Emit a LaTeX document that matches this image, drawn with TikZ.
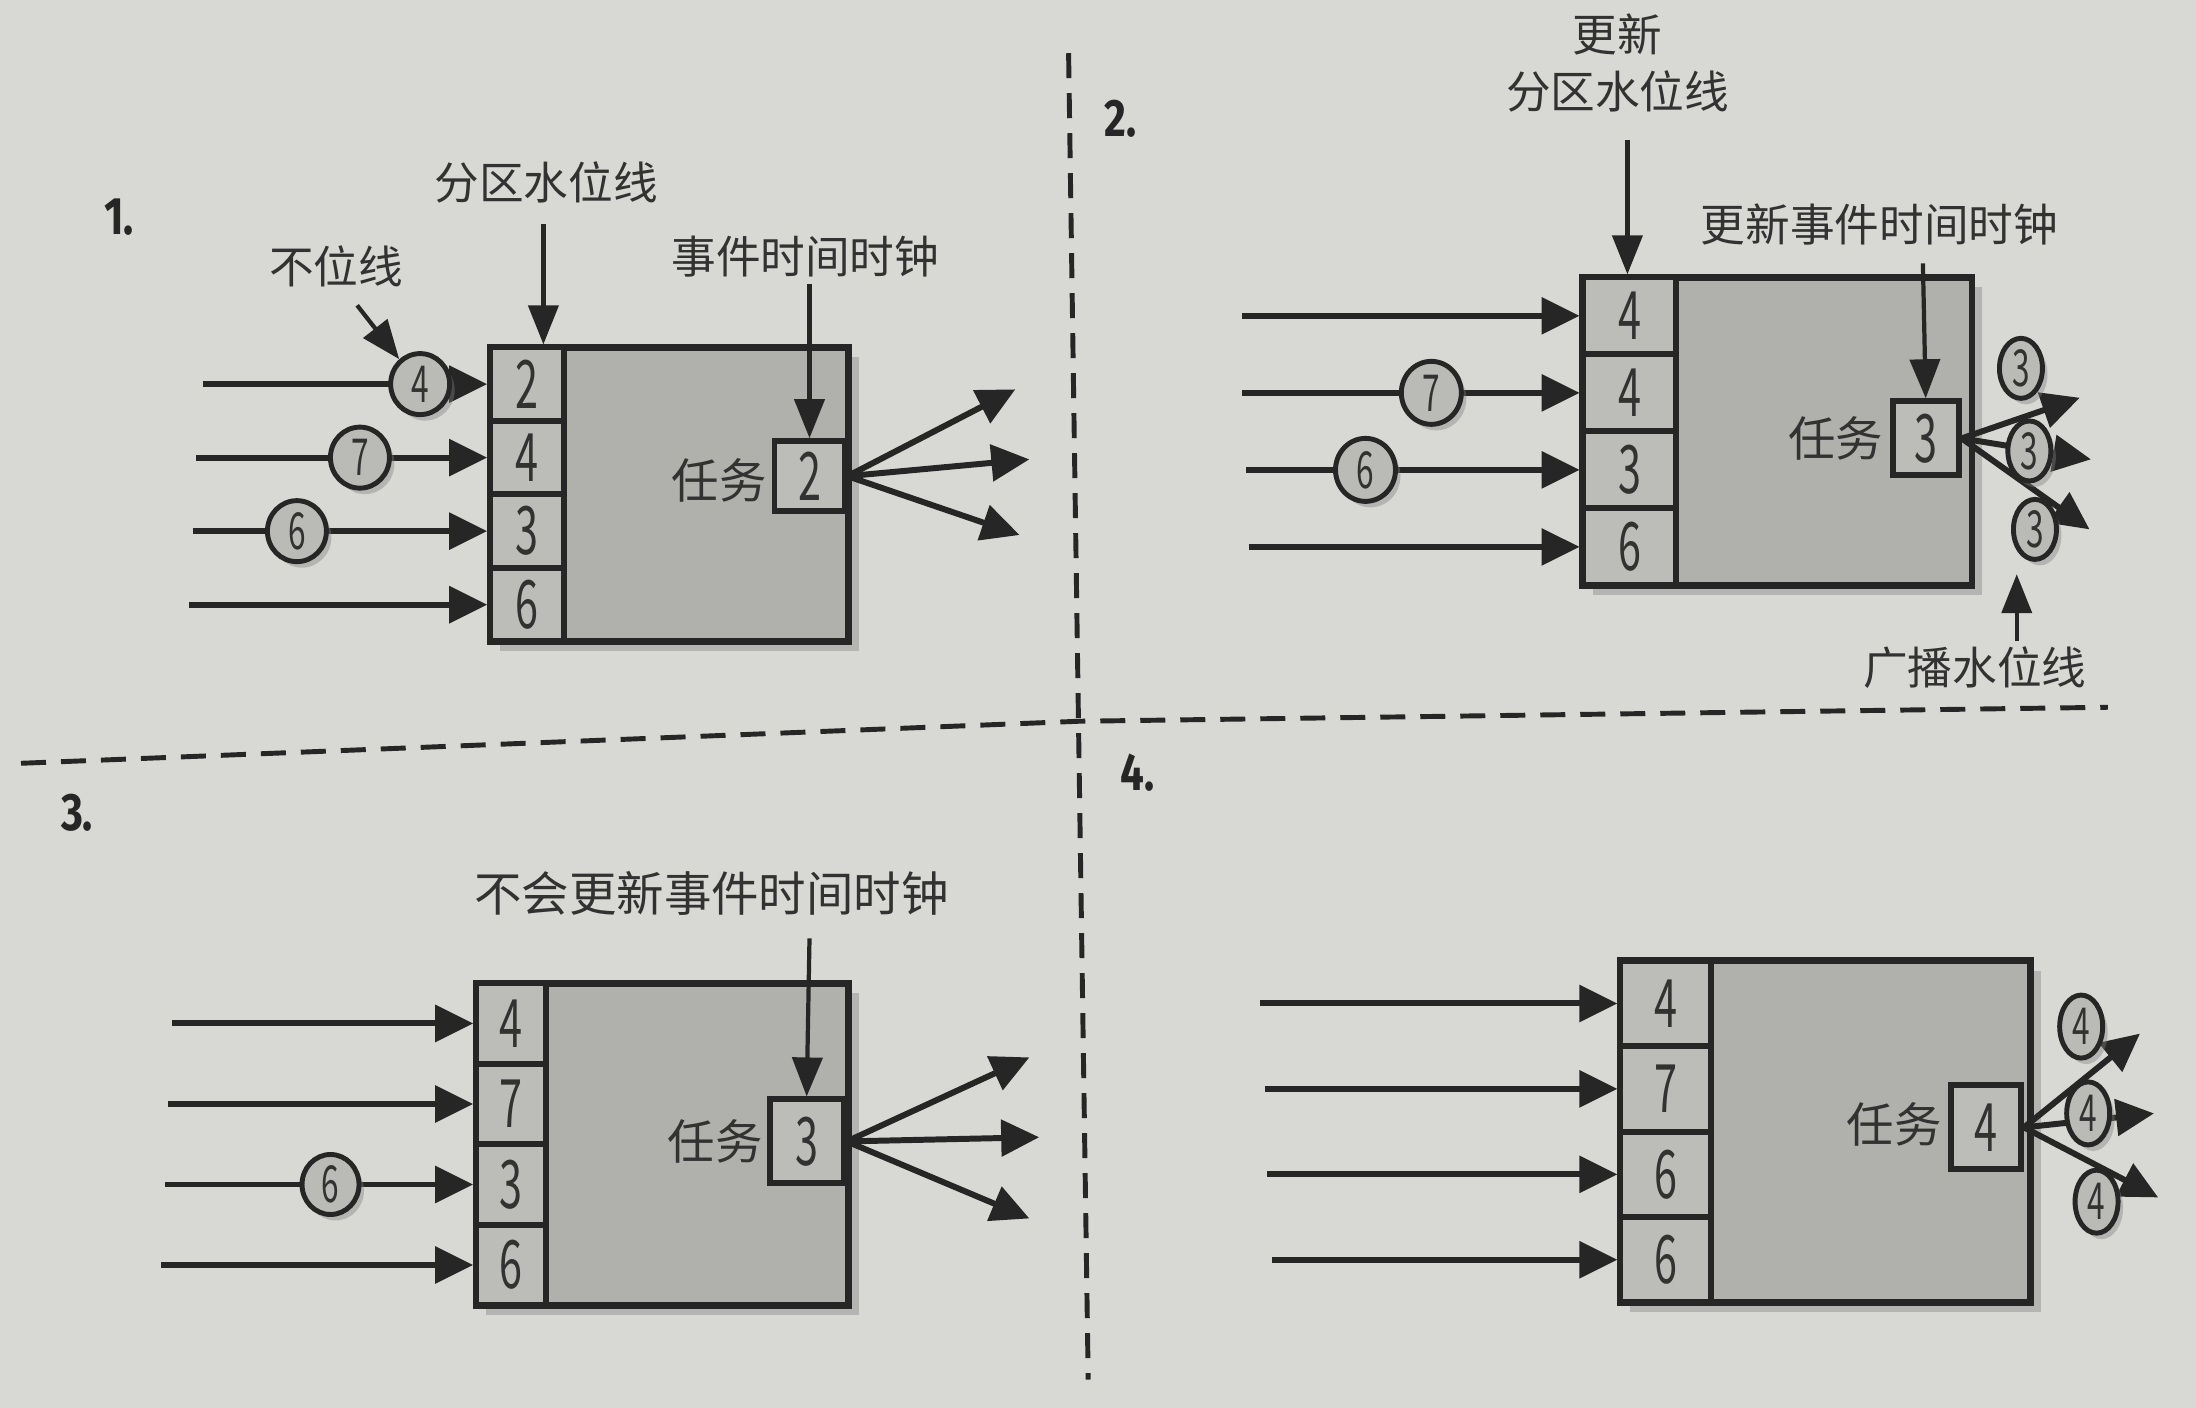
\documentclass[tikz,border=0pt]{standalone}
\usepackage{fontspec}
\usepackage{graphicx}
\newfontfamily\cjk{Noto Sans CJK SC}
\newfontfamily\numf{Fira Sans}
\usetikzlibrary{arrows.meta,shapes.geometric,shadows}
\definecolor{paper}{RGB}{216,216,213}
\definecolor{ink}{RGB}{38,38,38}
\definecolor{boxgray}{RGB}{176,176,172}
\definecolor{cellgray}{RGB}{188,188,184}
\definecolor{tokgray}{RGB}{186,186,182}
\definecolor{txt}{RGB}{50,50,50}
\newcommand{\dg}[1]{\scalebox{0.62}[1]{#1}}
\tikzset{
  bigbox/.style={draw=ink, line width=1.9pt, fill=boxgray, inner sep=0pt,
    drop shadow={shadow xshift=1mm, shadow yshift=-1mm, opacity=0.4}},
  cell/.style={draw=ink, line width=1.7pt, fill=cellgray, inner sep=0pt,
    font=\cjk\fontsize{19}{19}\selectfont, text=txt},
  tok/.style={ellipse, draw=ink, line width=1.4pt, fill=tokgray, inner sep=0pt,
    font=\cjk\fontsize{14.5}{14.5}\selectfont, text=txt,
    drop shadow={shadow xshift=0.5mm, shadow yshift=-0.6mm, opacity=0.4}},
  inarr/.style={draw=ink, line width=1.7pt, -{Triangle[length=3.8mm,width=3.6mm]}},
  lblarr/.style={draw=ink, line width=1.2pt, -{Triangle[length=3.9mm,width=3mm]}},
  lbl/.style={font=\cjk\fontsize{12.7}{16}\selectfont, text=txt, inner sep=1pt, align=center},
  tasklbl/.style={font=\cjk\fontsize{13.5}{14}\selectfont, text=txt, inner sep=0pt, anchor=east},
  pnum/.style={font=\numf\bfseries\fontsize{15}{15}\selectfont, text=ink},
  sep/.style={draw=ink, line width=1.4pt, dash pattern=on 2.5mm off 1.5mm},
}
\begin{document}
\begin{tikzpicture}[x=0.14005mm,y=-0.14005mm]
\path[use as bounding box, fill=paper] (0,0) rectangle (1568,1005);

% separators
\draw[sep] (15,545) -- (770,515) -- (1505,505);
\draw[sep] (763,38) -- (777,985);

% ---------------- Panel 1 ----------------
\node[pnum] (p1n) at (85,155) {\scalebox{0.8}[1]{1.}};
\node[bigbox, minimum width=35.85mm, minimum height=29.41mm] (p1box) at (478,353) {};
\node[cell, minimum width=7.42mm, minimum height=7.35mm] (p1c1) at (376.5,274.25) {\dg{2}};
\node[cell, minimum width=7.42mm, minimum height=7.35mm] (p1c2) at (376.5,326.75) {\dg{4}};
\node[cell, minimum width=7.42mm, minimum height=7.35mm] (p1c3) at (376.5,379.25) {\dg{3}};
\node[cell, minimum width=7.42mm, minimum height=7.35mm] (p1c4) at (376.5,431.75) {\dg{6}};
\node[cell, minimum width=7.0mm, minimum height=7.0mm] (p1t) at (578,340) {\dg{2}};
\node[tasklbl] (p1tl) at (548,343) {任务};
\coordinate (p1s1) at (145,274.25);
\coordinate (p1s2) at (140,326.75);
\coordinate (p1s3) at (138,379.25);
\coordinate (p1s4) at (135,431.75);
\draw[inarr] (p1s1) -- (p1c1.west);
\draw[inarr] (p1s2) -- (p1c2.west);
\draw[inarr] (p1s3) -- (p1c3.west);
\draw[inarr] (p1s4) -- (p1c4.west);
\node[tok, minimum width=5.9mm, minimum height=6.1mm] (p1k4) at (300,274.25) {\dg{4}};
\node[tok, minimum width=5.9mm, minimum height=6.1mm] (p1k7) at (257,326.75) {\dg{7}};
\node[tok, minimum width=5.9mm, minimum height=6.1mm] (p1k6) at (212,379.25) {\dg{6}};
\coordinate (p1o1) at (725,278);
\coordinate (p1o2) at (735,328);
\coordinate (p1o3) at (728,382);
\draw[inarr] (p1t.east) -- (p1o1);
\draw[inarr] (p1t.east) -- (p1o2);
\draw[inarr] (p1t.east) -- (p1o3);
\node[lbl] (p1l1) at (240,190) {不位线};
\node[lbl] (p1l2) at (390,130) {分区水位线};
\node[lbl] (p1l3) at (575,183) {事件时间时钟};
\coordinate (p1a1) at (255,218);
\coordinate (p1a2) at (388,160);
\coordinate (p1a3) at (578,203);
\draw[lblarr] (p1a1) -- (p1k4.130);
\draw[lblarr] (p1a2) -- (p1a2 |- p1c1.north);
\draw[lblarr] (p1a3) -- (p1t.north);

% ---------------- Panel 2 ----------------
\node[pnum] (p2n) at (800,85) {\scalebox{0.8}[1]{2.}};
\node[bigbox, minimum width=38.93mm, minimum height=30.81mm] (p2box) at (1269,308) {};
\node[cell, minimum width=9.38mm, minimum height=7.70mm] (p2c1) at (1163.5,225.5) {\dg{4}};
\node[cell, minimum width=9.38mm, minimum height=7.70mm] (p2c2) at (1163.5,280.5) {\dg{4}};
\node[cell, minimum width=9.38mm, minimum height=7.70mm] (p2c3) at (1163.5,335.5) {\dg{3}};
\node[cell, minimum width=9.38mm, minimum height=7.70mm] (p2c4) at (1163.5,390.5) {\dg{6}};
\node[cell, minimum width=6.6mm, minimum height=7.42mm] (p2t) at (1375,313) {\dg{3}};
\node[tasklbl] (p2tl) at (1345,313) {任务};
\coordinate (p2s1) at (887,225.5);
\coordinate (p2s2) at (887,280.5);
\coordinate (p2s3) at (890,335.5);
\coordinate (p2s4) at (892,390.5);
\draw[inarr] (p2s1) -- (p2c1.west);
\draw[inarr] (p2s2) -- (p2c2.west);
\draw[inarr] (p2s3) -- (p2c3.west);
\draw[inarr] (p2s4) -- (p2c4.west);
\node[tok, minimum width=6.0mm, minimum height=6.3mm] (p2k7) at (1022,280.5) {\dg{7}};
\node[tok, minimum width=6.0mm, minimum height=6.3mm] (p2k6) at (975,335.5) {\dg{6}};
\coordinate (p2o1) at (1485,284);
\coordinate (p2o2) at (1493,328);
\coordinate (p2o3) at (1492,378);
\draw[inarr] (p2t.east) -- (p2o1);
\draw[inarr] (p2t.east) -- (p2o2);
\draw[inarr] (p2t.east) -- (p2o3);
\node[tok, minimum width=4.3mm, minimum height=6.0mm] (p2b1) at (1443,263) {\dg{3}};
\node[tok, minimum width=4.3mm, minimum height=6.0mm] (p2b2) at (1449,322) {\dg{3}};
\node[tok, minimum width=4.3mm, minimum height=6.0mm] (p2b3) at (1453,378) {\dg{3}};
\node[lbl] (p2l1) at (1155,45) {更新\\分区水位线};
\node[lbl] (p2l2) at (1342,160) {更新事件时间时钟};
\node[lbl] (p2l3) at (1410,477) {广播水位线};
\coordinate (p2a1) at (1162,100);
\coordinate (p2a2) at (1373,188);
\coordinate (p2a3) at (1440,458);
\coordinate (p2a3e) at (1440,410);
\draw[lblarr] (p2a1) -- (p2a1 |- p2c1.north);
\draw[lblarr] (p2a2) -- (p2t.north);
\draw[lblarr] (p2a3) -- (p2a3e);

% ---------------- Panel 3 ----------------
\node[pnum] (p3n) at (55,580) {\scalebox{0.8}[1]{3.}};
\node[bigbox, minimum width=37.25mm, minimum height=32.21mm] (p3box) at (473,817) {};
\node[cell, minimum width=7.0mm, minimum height=8.05mm] (p3c1) at (365,730.75) {\dg{4}};
\node[cell, minimum width=7.0mm, minimum height=8.05mm] (p3c2) at (365,788.25) {\dg{7}};
\node[cell, minimum width=7.0mm, minimum height=8.05mm] (p3c3) at (365,845.75) {\dg{3}};
\node[cell, minimum width=7.0mm, minimum height=8.05mm] (p3c4) at (365,903.25) {\dg{6}};
\node[cell, minimum width=7.42mm, minimum height=8.4mm] (p3t) at (576,815) {\dg{3}};
\node[tasklbl] (p3tl) at (545,815) {任务};
\coordinate (p3s1) at (123,730.75);
\coordinate (p3s2) at (120,788.25);
\coordinate (p3s3) at (118,845.75);
\coordinate (p3s4) at (115,903.25);
\draw[inarr] (p3s1) -- (p3c1.west);
\draw[inarr] (p3s2) -- (p3c2.west);
\draw[inarr] (p3s3) -- (p3c3.west);
\draw[inarr] (p3s4) -- (p3c4.west);
\node[tok, minimum width=5.7mm, minimum height=6.0mm] (p3k6) at (236,845.75) {\dg{6}};
\coordinate (p3o1) at (735,755);
\coordinate (p3o2) at (742,812);
\coordinate (p3o3) at (735,870);
\draw[inarr] (p3t.east) -- (p3o1);
\draw[inarr] (p3t.east) -- (p3o2);
\draw[inarr] (p3t.east) -- (p3o3);
\node[lbl, font=\cjk\fontsize{13.5}{16}\selectfont] (p3l1) at (508,638) {不会更新事件时间时钟};
\coordinate (p3a1) at (578,670);
\draw[lblarr] (p3a1) -- (p3t.north);

% ---------------- Panel 4 ----------------
\node[pnum] (p4n) at (812,552) {\scalebox{0.8}[1]{4.}};
\node[bigbox, minimum width=41.03mm, minimum height=34.17mm] (p4box) at (1303.5,808) {};
\node[cell, minimum width=9.10mm, minimum height=8.54mm] (p4c1) at (1189.5,716.5) {\dg{4}};
\node[cell, minimum width=9.10mm, minimum height=8.54mm] (p4c2) at (1189.5,777.5) {\dg{7}};
\node[cell, minimum width=9.10mm, minimum height=8.54mm] (p4c3) at (1189.5,838.5) {\dg{6}};
\node[cell, minimum width=9.10mm, minimum height=8.54mm] (p4c4) at (1189.5,899.5) {\dg{6}};
\node[cell, minimum width=7.0mm, minimum height=8.4mm] (p4t) at (1418,805) {\dg{4}};
\node[tasklbl] (p4tl) at (1387,803) {任务};
\coordinate (p4s1) at (900,716.5);
\coordinate (p4s2) at (903,777.5);
\coordinate (p4s3) at (905,838.5);
\coordinate (p4s4) at (908,899.5);
\draw[inarr] (p4s1) -- (p4c1.west);
\draw[inarr] (p4s2) -- (p4c2.west);
\draw[inarr] (p4s3) -- (p4c3.west);
\draw[inarr] (p4s4) -- (p4c4.west);
\coordinate (p4o1) at (1528,738);
\coordinate (p4o2) at (1538,795);
\coordinate (p4o3) at (1541,855);
\draw[inarr] (p4t.east) -- (p4o1);
\draw[inarr] (p4t.east) -- (p4o2);
\draw[inarr] (p4t.east) -- (p4o3);
\node[tok, minimum width=4.3mm, minimum height=6.3mm] (p4b1) at (1486,733) {\dg{4}};
\node[tok, minimum width=4.3mm, minimum height=6.3mm] (p4b2) at (1491,795) {\dg{4}};
\node[tok, minimum width=4.3mm, minimum height=6.3mm] (p4b3) at (1497,858) {\dg{4}};
\end{tikzpicture}
\end{document}
